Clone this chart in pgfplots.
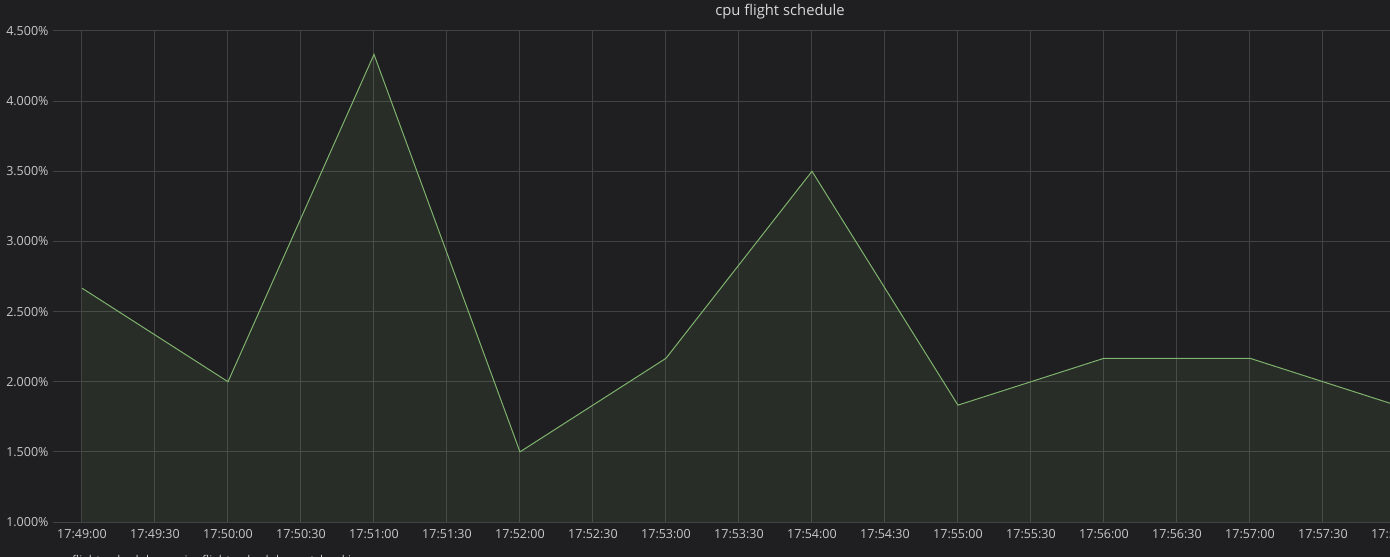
\documentclass[border=0pt]{standalone}
\usepackage{fontspec}
\setmainfont{Open Sans}
\usepackage{pgfplots}
\pgfplotsset{compat=1.18}
\definecolor{bg}{RGB}{31,30,32}
\definecolor{gridc}{RGB}{66,66,68}
\definecolor{txt}{RGB}{199,200,202}
\definecolor{ttl}{RGB}{216,217,218}
\definecolor{ser}{RGB}{126,178,109}
\begin{document}
\begin{tikzpicture}[x=1pt,y=1pt]
\fill[bg] (0,0) rectangle (1390,557);
\useasboundingbox (0,0) rectangle (1390,557);
\begin{axis}[
  at={(53pt,35pt)}, anchor=south west,
  scale only axis, width=1343pt, height=491pt,
  xmin=-0.19863, xmax=9, ymin=1, ymax=4.5,
  axis line style={draw=none},
  major tick length=0pt,
  grid=major,
  major grid style={draw=gridc, line width=1pt},
  xtick={0,0.5,1,1.5,2,2.5,3,3.5,4,4.5,5,5.5,6,6.5,7,7.5,8,8.5,9},
  xticklabels={17:49:00,17:49:30,17:50:00,17:50:30,17:51:00,17:51:30,17:52:00,17:52:30,17:53:00,17:53:30,17:54:00,17:54:30,17:55:00,17:55:30,17:56:00,17:56:30,17:57:00,17:57:30,17:58:00},
  ytick={1,1.5,2,2.5,3,3.5,4,4.5},
  yticklabels={1.000\%,1.500\%,2.000\%,2.500\%,3.000\%,3.500\%,4.000\%,4.500\%},
  tick label style={font=\fontsize{12.5}{14}\selectfont, text=txt},
  x tick label style={yshift=-3.5pt},
  y tick label style={xshift=-1pt},
]
\addplot[draw=none, fill=ser, fill opacity=0.1] coordinates {
  (0,2.667) (1,2.0) (2,4.333) (3,1.5) (4,2.167) (5,3.5) (6,1.833) (7,2.167) (8,2.167) (9,1.833)
} \closedcycle;
\addplot[draw=ser, line width=1pt] coordinates {
  (0,2.667) (1,2.0) (2,4.333) (3,1.5) (4,2.167) (5,3.5) (6,1.833) (7,2.167) (8,2.167) (9,1.833)
};
\end{axis}
\node[anchor=base, text=ttl, font=\fontsize{14.8}{16}\selectfont] at (780,541) {cpu flight schedule};
\draw[ser, line width=2pt] (52,-4) -- (66,-4);
\node[anchor=base west, inner sep=0pt, text=txt, font=\fontsize{12}{14}\selectfont] at (72,-7.5) {flight\_schedule\_service};
\node[anchor=base west, inner sep=0pt, text=txt, font=\fontsize{12}{14}\selectfont] at (202,-7.5) {flight\_schedule\_seat\_booking};
\end{tikzpicture}
\end{document}
